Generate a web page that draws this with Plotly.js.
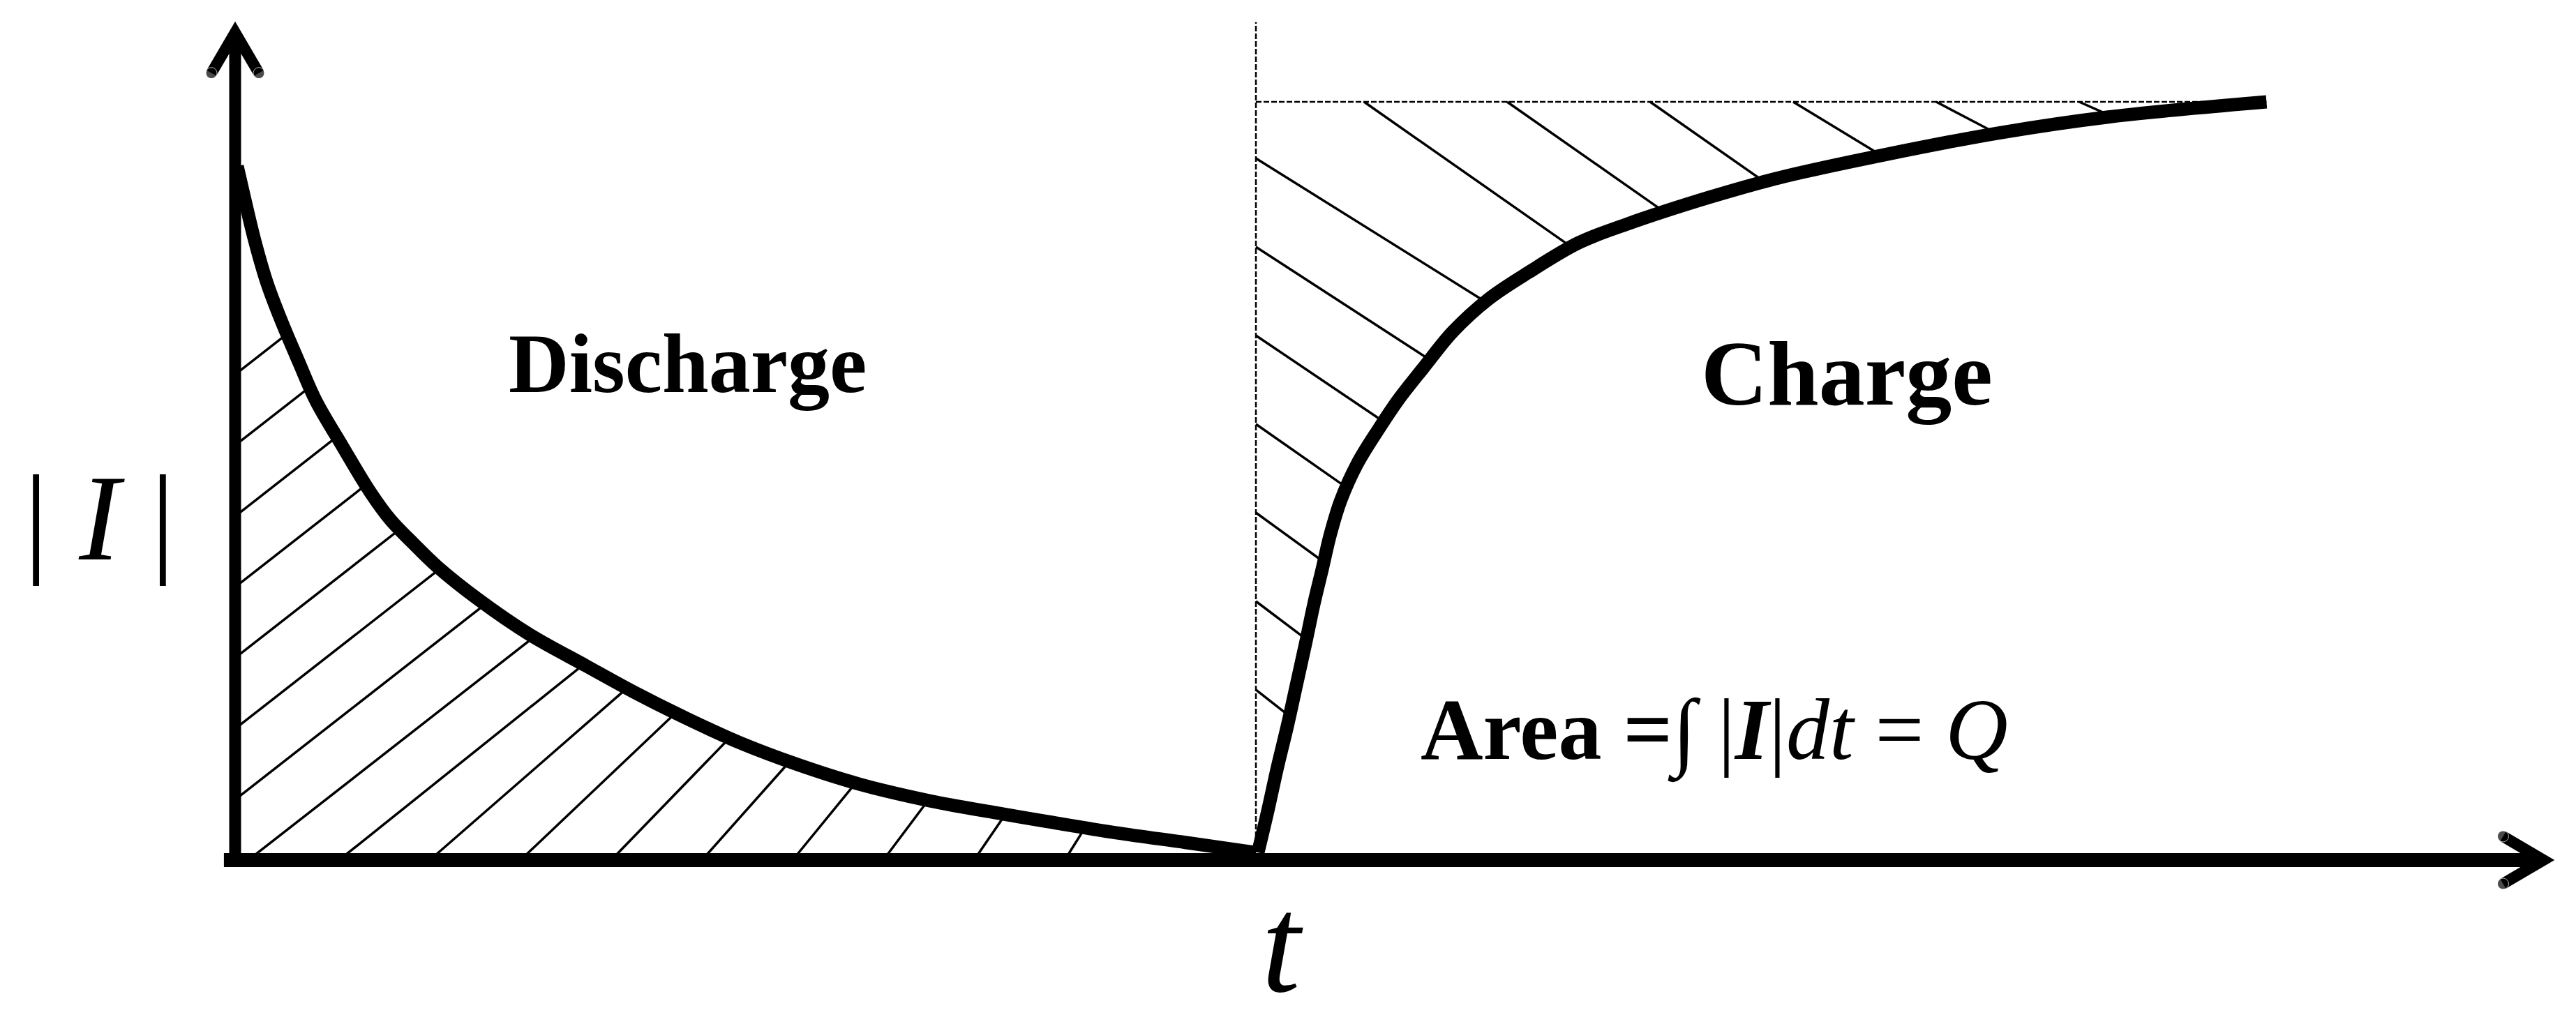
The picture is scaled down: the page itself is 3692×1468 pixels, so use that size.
<!DOCTYPE html>
<html>
<head>
<meta charset="utf-8">
<script src="https://cdn.plot.ly/plotly-3.0.1.min.js"></script>
<style>
  html, body { margin:0; padding:0; background:#fff; }
  #grafica { width:3692px; height:1468px; }
</style>
</head>
<body>
<div id="grafica"></div>
<script>
// discharge branch (arbitrary units): |I| falls from its start value to ~0
const tDischarge = [0.02, 0.09, 0.19, 0.31, 0.45, 0.62, 0.79, 1.05, 1.32, 1.52, 1.75, 1.98, 2.39,
    2.89, 3.44, 3.90, 4.42, 4.94, 5.51, 6.12, 6.81, 7.47, 7.95, 8.63, 9.32, 10.0];
const iDischarge = [9.15, 8.74, 8.18, 7.62, 7.12, 6.58, 6.06, 5.46, 4.86, 4.49, 4.17, 3.87, 3.43,
    2.97, 2.56, 2.22, 1.87, 1.55, 1.26, 1.00, 0.78, 0.62, 0.51, 0.36, 0.23, 0.10];

// charge branch: |I| climbs back towards the full level
const tCharge = [10.02, 10.12, 10.21, 10.31, 10.40, 10.49, 10.57, 10.65, 10.73, 10.83, 10.99, 11.20,
    11.40, 11.64, 11.93, 12.28, 12.67, 13.16, 13.62, 14.44, 15.13, 16.15, 17.28, 18.35, 19.90];
const iCharge = [0.10, 0.67, 1.22, 1.78, 2.33, 2.88, 3.39, 3.84, 4.30, 4.74, 5.22, 5.68,
    6.08, 6.49, 6.97, 7.40, 7.75, 8.14, 8.38, 8.74, 9.00, 9.30, 9.59, 9.80, 10.00];

const tSwitch = 10;        // discharge -> charge
const levelQ = 10;         // dashed top level
const switchTop = 11.05;   // top of the dashed vertical
const tAxisEnd = 22.73;    // arrow tips
const iAxisEnd = 11.07;

const W = 3692, H = 1468;
const xRange = [-2.3035, 22.932];
const yRange = [-2.162, 11.343];
const kx = W / (xRange[1] - xRange[0]);
const ky = H / (yRange[1] - yRange[0]);

const toPx = (t, i) => [(t - xRange[0]) * kx, (yRange[1] - i) * ky];
const toData = (px, py) => [px / kx + xRange[0], yRange[1] - py / ky];

// segments of the line p + s*d that lie inside poly (pixel space)
function clipLine(poly, p, d){
    let ss = [];
    for(let n = 0; n < poly.length; n++){
        const a = poly[n], b = poly[(n + 1) % poly.length];
        const ex = b[0] - a[0], ey = b[1] - a[1];
        const den = d[0] * ey - d[1] * ex;
        if(Math.abs(den) < 1e-12) continue;
        const wx = a[0] - p[0], wy = a[1] - p[1];
        const s = (wx * ey - wy * ex) / den;
        const u = (wx * d[1] - wy * d[0]) / den;
        if(u >= 0 && u < 1) ss.push(s);
    }
    ss.sort((x, y) => x - y);
    let segs = [];
    for(let n = 0; n + 1 < ss.length; n += 2){
        if(ss[n + 1] - ss[n] > 2) segs.push([ss[n], ss[n + 1]]);
    }
    return segs;
}

let hatchX = [], hatchY = [];
function addHatch(poly, p, deg, up){
    const r = deg * Math.PI / 180;
    const d = [Math.cos(r), up ? -Math.sin(r) : Math.sin(r)];
    clipLine(poly, p, d).forEach(sg => {
        const a = toData(p[0] + sg[0] * d[0], p[1] + sg[0] * d[1]);
        const b = toData(p[0] + sg[1] * d[0], p[1] + sg[1] * d[1]);
        hatchX.push(a[0], b[0], null);
        hatchY.push(a[1], b[1], null);
    });
}

const origin = toPx(0, 0);
const switchPx = toPx(tSwitch, 0)[0];
const qPx = toPx(tSwitch, levelQ)[1];

// discharge area: between the axes and the curve
let polyD = [[0, 0], [0, iDischarge[0]]];
tDischarge.forEach((t, k) => polyD.push([t, iDischarge[k]]));
polyD.push([tDischarge[tDischarge.length - 1], 0]);
polyD = polyD.map(p => toPx(p[0], p[1]));

for(let k = 0; k < 17; k++){
    const xb = switchPx - 274 - k * 130;
    const f = Math.min(1, Math.max(0, (xb - origin[0] - 113) / 1076));
    addHatch(polyD, [xb, origin[1]], 38 + 20 * f, true);
}

// charge area: between the dashed lines and the curve
let polyC = [[tSwitch, 0], [tSwitch, levelQ], [tCharge[tCharge.length - 1], levelQ]];
for(let k = tCharge.length - 1; k >= 0; k--) polyC.push([tCharge[k], iCharge[k]]);
polyC = polyC.map(p => toPx(p[0], p[1]));

for(let k = 0; k < 7; k++){
    addHatch(polyC, [switchPx, origin[1] - 244 - k * 127], 38 - k, false);
}
for(let k = 0; k < 6; k++){
    addHatch(polyC, [switchPx + 155 + k * 205, qPx], 35 - 11 * Math.max(0, (k - 2) / 3), false);
}

// arrow geometry (pixels)
const tipBack = 17, wingBack = 75, wingHalf = 34;
const xTip = toPx(tAxisEnd, 0);
const yTip = toPx(0, iAxisEnd);
const xArrow = [toData(xTip[0] - wingBack, xTip[1] - wingHalf), toData(xTip[0] - tipBack, xTip[1]),
    toData(xTip[0] - wingBack, xTip[1] + wingHalf)];
const yArrow = [toData(yTip[0] - wingHalf, yTip[1] + wingBack), toData(yTip[0], yTip[1] + tipBack),
    toData(yTip[0] + wingHalf, yTip[1] + wingBack)];

const black = '#000000';

const traces = [
    {
        x: hatchX, y: hatchY, mode: 'lines',
        line: {color: black, width: 3.5}
    },
    {
        x: [tSwitch, tSwitch], y: [0, switchTop], mode: 'lines',
        line: {color: black, width: 2.5, dash: '8px,3px'}
    },
    {
        x: [tSwitch, tCharge[tCharge.length - 1]], y: [levelQ, levelQ], mode: 'lines',
        line: {color: black, width: 2.5, dash: '8px,3px'}
    },
    {
        x: tDischarge, y: iDischarge, mode: 'lines',
        line: {color: black, width: 19, shape: 'spline', smoothing: 1}
    },
    {
        x: tCharge, y: iCharge, mode: 'lines',
        line: {color: black, width: 19, shape: 'spline', smoothing: 1}
    },
    {
        x: [-0.11, toData(xTip[0] - 30, 0)[0]], y: [0, 0], mode: 'lines',
        line: {color: black, width: 20}
    },
    {
        x: [0, 0], y: [toData(0, origin[1] + 10)[1], toData(0, yTip[1] + 25)[1]], mode: 'lines',
        line: {color: black, width: 17}
    },
    {
        x: xArrow.map(p => p[0]), y: xArrow.map(p => p[1]), mode: 'lines+markers',
        line: {color: black, width: 16},
        marker: {color: black, size: [16, 0, 16]}
    },
    {
        x: yArrow.map(p => p[0]), y: yArrow.map(p => p[1]), mode: 'lines+markers',
        line: {color: black, width: 16},
        marker: {color: black, size: [16, 0, 16]}
    }
];

const serif = 'Liberation Serif, Times New Roman, serif';
const note = (text, px, py, size, yanchor) => ({
    text: text, xref: 'paper', yref: 'paper',
    x: px / W, y: 1 - py / H, xanchor: 'center', yanchor: yanchor || 'middle',
    showarrow: false, font: {family: serif, size: size, color: black}
});

const sp = '\u00A0';

const layout = {
    width: W,
    height: H,
    margin: {l: 0, r: 0, t: 0, b: 0},
    paper_bgcolor: '#ffffff',
    plot_bgcolor: '#ffffff',
    showlegend: false,
    xaxis: {range: xRange, visible: false, fixedrange: true},
    yaxis: {range: yRange, visible: false, fixedrange: true},
    annotations: [
        note('<b>Discharge</b>', 985, 522, 120),
        note('<b>Charge</b>', 2647, 535, 132),
        note('|' + sp + '<i>I</i>' + sp + '|', 142, 742, 176),
        note('<i>t</i>', 1838, 1466, 200, 'bottom'),
        note('<b>Area' + sp + '=</b>∫' + sp + '|<b><i>I</i></b>|<i>dt</i>' + sp + '=' + sp + '<i>Q</i>',
            2457, 1050, 124)
    ]
};

Plotly.newPlot('grafica', traces, layout, {staticPlot: true, displayModeBar: false});
</script>
</body>
</html>
